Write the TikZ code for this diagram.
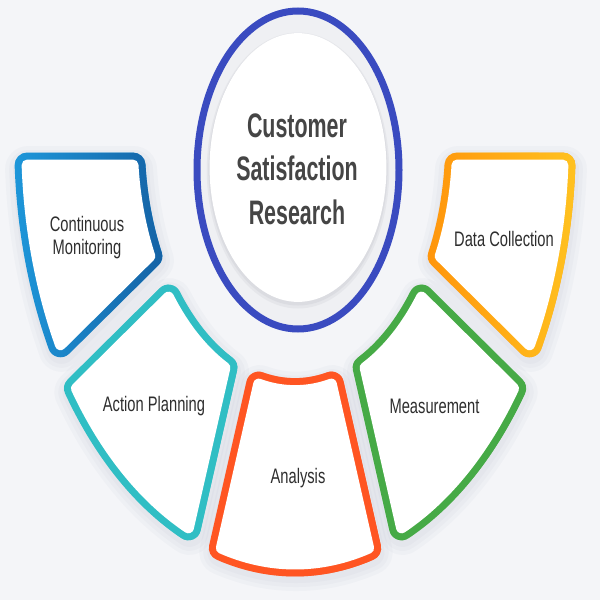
\documentclass[tikz,border=0pt]{standalone}
\usepackage{fontspec}
\usetikzlibrary{fadings}
\newfontfamily\labfont[FakeStretch=0.7]{Liberation Sans}
\newfontfamily\ctrfont[FakeStretch=0.63]{Liberation Sans}
\definecolor{bgc}{HTML}{F4F5F8}
\definecolor{ringblue}{HTML}{3A4BC0}
\definecolor{ringfill}{HTML}{EFF0F3}
\definecolor{discsh}{HTML}{C9CBD2}
\definecolor{cmA}{HTML}{1E97DA}
\definecolor{cmB}{HTML}{1563A6}
\definecolor{apc}{HTML}{30BEC4}
\definecolor{anc}{HTML}{FF5522}
\definecolor{mec}{HTML}{46AA46}
\definecolor{dcA}{HTML}{FF960C}
\definecolor{dcB}{HTML}{FFC220}
\definecolor{shc}{HTML}{7C86A8}
\definecolor{labc}{HTML}{2E2E2E}
\definecolor{ctrc}{HTML}{454545}
\tikzfading[name=fadeR, left color=transparent!100, right color=transparent!0]
\tikzset{
  rim/.style={line width=12.5pt, line join=round},
  core/.style={draw=white, fill=white, line width=5.5pt, line join=round},
  shad/.style={line join=round, draw=shc, fill=shc, opacity=0.045},
  lab/.style={font=\labfont\fontsize{10.5}{11.5}\selectfont, text=labc, inner sep=0pt, align=center},
  ctrtext/.style={font=\ctrfont\bfseries\fontsize{17}{21.75}\selectfont, text=ctrc, inner sep=0pt, align=center},
}
\begin{document}
\begin{tikzpicture}[x=0.5pt,y=-0.5pt]
\useasboundingbox (0,0) rectangle (600,600);
\fill[bgc] (0,0) rectangle (600,600);
\begin{scope}[shift={(295,142)}, yscale=1.556]
  % shadows
  \foreach \pa/\pb/\da/\db/\dl in {180/147.5/14.8/16.1/8.7, 147.5/109.5/16.1/17.7/7.1, 109.5/70.5/17.7/17.7/5.8, 70.5/32.5/17.7/16.1/7.1, 32.5/0/16.1/14.8/8.7}{
    \pgfmathsetmacro\Ro{277-\dl}
    \pgfmathsetmacro\ri{154+\dl}
    \pgfmathsetmacro\aO{\pa-asin(\da/\Ro)}
    \pgfmathsetmacro\bO{\pb+asin(\db/\Ro)}
    \pgfmathsetmacro\aI{\pa-asin(\da/\ri)}
    \pgfmathsetmacro\bI{\pb+asin(\db/\ri)}
    \def\seg{plot[domain=0:1,samples=40,variable=\x] ({\aO+(\bO-\aO)*\x}:\Ro) -- plot[domain=0:1,samples=30,variable=\x] ({\bI+(\aI-\bI)*\x}:\ri) -- cycle}
    \begin{scope}[shift={(1,2.6)}]
      \draw[shad, line width=15pt] \seg;
      \draw[shad, line width=19pt] \seg;
      \draw[shad, line width=23pt] \seg;
    \end{scope}
  }
  % segments
  \foreach \pa/\pb/\da/\db/\dl/\ca/\cb in {180/147.5/14.8/16.1/8.7/cmA/cmB, 147.5/109.5/16.1/17.7/7.1/apc/apc, 109.5/70.5/17.7/17.7/5.8/anc/anc, 70.5/32.5/17.7/16.1/7.1/mec/mec, 32.5/0/16.1/14.8/8.7/dcA/dcB}{
    \pgfmathsetmacro\Ro{277-\dl}
    \pgfmathsetmacro\ri{154+\dl}
    \pgfmathsetmacro\aO{\pa-asin(\da/\Ro)}
    \pgfmathsetmacro\bO{\pb+asin(\db/\Ro)}
    \pgfmathsetmacro\aI{\pa-asin(\da/\ri)}
    \pgfmathsetmacro\bI{\pb+asin(\db/\ri)}
    \def\seg{plot[domain=0:1,samples=40,variable=\x] ({\aO+(\bO-\aO)*\x}:\Ro) -- plot[domain=0:1,samples=30,variable=\x] ({\bI+(\aI-\bI)*\x}:\ri) -- cycle}
    \draw[rim, draw=\ca] \seg;
    \draw[rim, draw=\cb, path fading=fadeR] \seg;
    \draw[core] \seg;
  }
\end{scope}
% centre circle
\fill[ringfill] (298,170) ellipse [x radius=50.5pt, y radius=79.5pt];
\fill[discsh, opacity=0.25] (298,170.5) ellipse [x radius=45.6pt, y radius=69pt];
\fill[discsh, opacity=0.35] (298,169.5) ellipse [x radius=44.8pt, y radius=68pt];
\fill[white] (298,167.5) ellipse [x radius=44.2pt, y radius=67.2pt];
\draw[ringblue, line width=3.5pt] (298,170) ellipse [x radius=50.5pt, y radius=79.5pt];
% texts
\node[ctrtext] (ctr) at (297,169) {Customer\\Satisfaction\\Research};
\node[lab] (cm) at (87,238) {Continuous\\Monitoring};
\node[lab, anchor=base] (ap) at (154,411) {Action Planning};
\node[lab, anchor=base] (an) at (298,483) {Analysis};
\node[lab, anchor=base] (me) at (434.5,413) {Measurement};
\node[lab, anchor=base] (dc) at (504,246) {Data Collection};
\end{tikzpicture}
\end{document}
